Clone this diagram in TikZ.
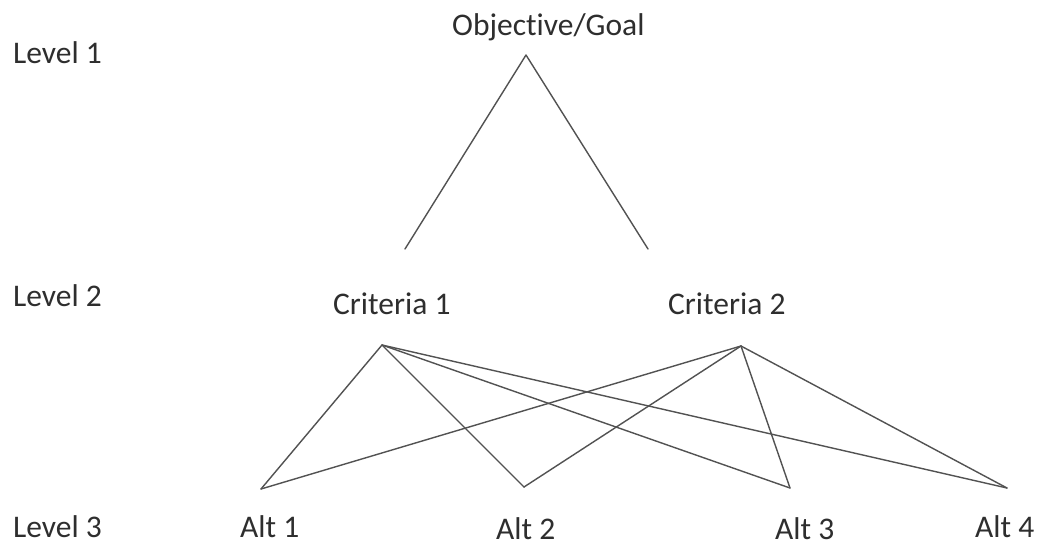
\documentclass[tikz,border=0pt]{standalone}
\usepackage{fontspec}
\setmainfont[Ligatures=NoCommon]{Carlito}
\begin{document}
\begin{tikzpicture}[x=1pt,y=-1pt,
  lbl/.style={anchor=base west,inner sep=0pt,text=black!82,font=\fontsize{31.5}{38}\selectfont},
  link/.style={draw=black!68,line width=1.4pt,line cap=round,line join=round}]
  \useasboundingbox[fill=white] (0,0) rectangle (1041,546);

  % level captions
  \node[lbl] (lv1) at (13,63) {Level 1};
  \node[lbl] (lv2) at (13,306) {Level 2};
  \node[lbl] (lv3) at (13,537) {Level 3};

  % element captions
  \node[lbl] (goal) at (452,35) {Objective/Goal};
  \node[lbl] (crit1) at (333,314) {Criteria 1};
  \node[lbl] (crit2) at (668,314) {Criteria 2};
  \node[lbl] (alt1) at (240,537) {Alt 1};
  \node[lbl] (alt2) at (496,539) {Alt 2};
  \node[lbl] (alt3) at (775,539) {Alt 3};
  \node[lbl] (alt4) at (975,537) {Alt 4};

  % connection points
  \coordinate (g) at (526,55);
  \coordinate (gl) at (405,249);
  \coordinate (gr) at (648,249);
  \coordinate (c1) at (382,345);
  \coordinate (c2) at (741,346);
  \coordinate (a1) at (261,489);
  \coordinate (a2) at (524,487);
  \coordinate (a3) at (790,488);
  \coordinate (a4) at (1007,488);

  % goal to criteria
  \draw[link] (gl) -- (g) -- (gr);

  % criteria to alternatives
  \foreach \c in {c1,c2}
    \foreach \a in {a1,a2,a3,a4}
      \draw[link] (\c) -- (\a);
\end{tikzpicture}
\end{document}
